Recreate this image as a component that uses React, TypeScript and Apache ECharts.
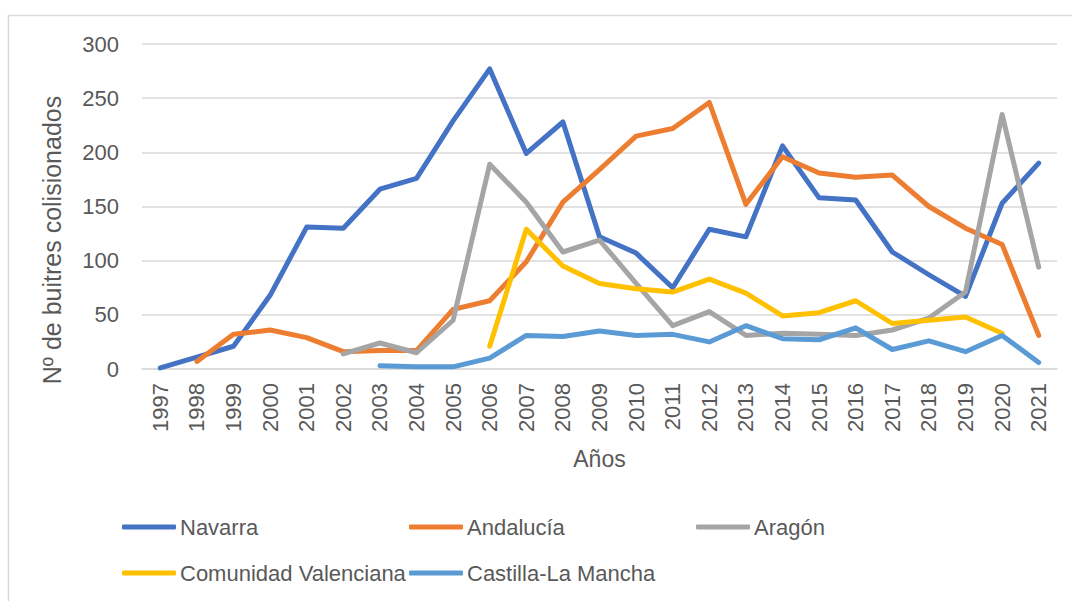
import React, { useEffect, useRef } from "react";
import * as echarts from "echarts";

const years = ["1997","1998","1999","2000","2001","2002","2003","2004","2005","2006","2007","2008","2009","2010","2011","2012","2013","2014","2015","2016","2017","2018","2019","2020","2021"];
const navarra = [1, 11, 21, 68, 131, 130, 166, 176, 229, 277, 199, 228, 122, 107, 75, 129, 122, 206, 158, 156, 108, 87, 67, 153, 190];
const andalucia = [null, 7, 32, 36, 29, 16, 17, 17, 55, 63, 99, 154, 184, 215, 222, 246, 152, 196, 181, 177, 179, 150, 130, 115, 31];
const aragon = [null, null, null, null, null, 14, 24, 15, 45, 189, 154, 108, 119, 79, 40, 53, 31, 33, 32, 31, 36, 47, 71, 235, 94];
const valenciana = [null, null, null, null, null, null, null, null, null, 21, 129, 95, 79, 74, 71, 83, 70, 49, 52, 63, 42, 45, 48, 33, null];
const castilla = [null, null, null, null, null, null, 3, 2, 2, 10, 31, 30, 35, 31, 32, 25, 40, 28, 27, 38, 18, 26, 16, 31, 6];
const seriesNames = ["Navarra", "Andalucía", "Aragón", "Comunidad Valenciana", "Castilla-La Mancha"];
const seriesData = [navarra, andalucia, aragon, valenciana, castilla];
const colors = ["#4472C4", "#ED7D31", "#A5A5A5", "#FFC000", "#5B9BD5"];
const legendPos = [[122, 516], [409, 516], [696, 516], [122, 562], [409, 562]];
const yAxisTitle = "Nº de buitres colisionados";
const xAxisTitle = "Años";

const FONT = "'Liberation Sans', Arial, sans-serif";
const TXT = "#595959";

export default function App() {
  const ref = useRef<HTMLDivElement>(null);
  useEffect(() => {
    const chart = echarts.init(ref.current!, null, { renderer: "svg" });
    chart.setOption({
      animation: false,
      backgroundColor: "#ffffff",
      textStyle: { fontFamily: FONT },
      graphic: [
        {
          type: "rect",
          z: -10,
          shape: { x: 8.5, y: 15.5, width: 1200, height: 700 },
          style: { fill: "none", stroke: "#d9d9d9", lineWidth: 1.5 },
          silent: true,
        },
        {
          type: "text",
          x: 52,
          y: 240,
          rotation: Math.PI / 2,
          style: {
            text: yAxisTitle,
            fontSize: 25,
            fontFamily: FONT,
            fill: TXT,
            align: "center",
            verticalAlign: "middle",
          },
          silent: true,
        },
      ],
      grid: { left: 142, right: 15, top: 44, bottom: 232, containLabel: false },
      xAxis: {
        type: "category",
        data: years,
        boundaryGap: true,
        name: xAxisTitle,
        nameLocation: "middle",
        nameGap: 78,
        nameTextStyle: { fontSize: 23, color: TXT, fontFamily: FONT },
        axisLine: { lineStyle: { color: "#d9d9d9", width: 1.5 } },
        axisTick: { show: false },
        axisLabel: { rotate: 90, fontSize: 22, color: TXT, margin: 14, fontFamily: FONT, interval: 0 },
      },
      yAxis: {
        type: "value",
        min: 0,
        max: 300,
        interval: 50,
        axisLine: { show: false },
        axisTick: { show: false },
        axisLabel: { fontSize: 22, color: TXT, margin: 23, fontFamily: FONT },
        splitLine: { lineStyle: { color: "#d9d9d9", width: 1.5 } },
      },
      legend: seriesNames.map((n, i) => ({
        data: [n],
        left: legendPos[i][0],
        top: legendPos[i][1],
        icon: "roundRect",
        itemWidth: 54,
        itemHeight: 5,
        itemGap: 0,
        padding: 0,
        textStyle: { fontSize: 22, color: TXT, fontFamily: FONT, padding: [0, 0, 0, -1] },
      })),
      series: seriesNames.map((n, i) => ({
        name: n,
        type: "line",
        data: seriesData[i],
        showSymbol: false,
        symbol: "none",
        connectNulls: false,
        color: colors[i],
        lineStyle: { color: colors[i], width: 5, cap: "round", join: "round" },
        itemStyle: { color: colors[i] },
      })),
    });
    return () => chart.dispose();
  }, []);
  return <div ref={ref} style={{ position: "fixed", left: 0, top: 0, width: 1072, height: 601 }} />;
}
